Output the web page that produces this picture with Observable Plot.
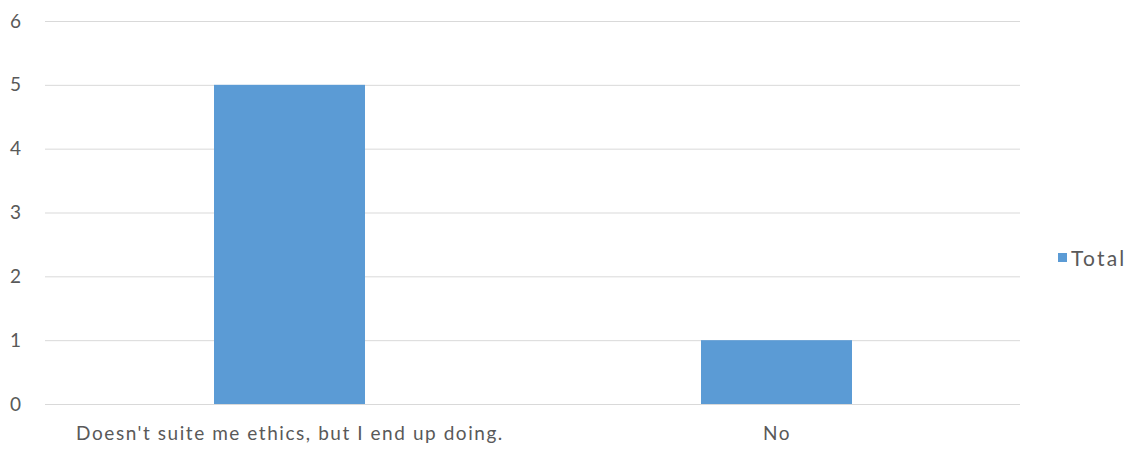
<!DOCTYPE html>
<html>
<head>
<meta charset="utf-8">
<script src="https://cdn.jsdelivr.net/npm/d3@7"></script>
<script src="https://cdn.jsdelivr.net/npm/@observablehq/plot@0.6"></script>
<style>
  html, body { margin: 0; padding: 0; background: #fff; }
  #wrap { position: relative; width: 1136px; height: 451px; font-family: Lato, "Open Sans", sans-serif; }
  #legend { position: absolute; left: 1058px; top: 244px; height: 26px; display: flex; align-items: center; font-size: 21px; letter-spacing: 2.2px; color: #595959; }
  #legend .sw { width: 9px; height: 9px; background: #5b9bd5; margin-right: 4px; }
  #chart svg text { letter-spacing: 1.55px; }
</style>
</head>
<body>
<div id="wrap">
  <div id="chart"></div>
  <div id="legend"><div class="sw"></div><span id="legname"></span></div>
</div>
<script>
const categories = ["Doesn't suite me ethics, but I end up doing.", "No"];
const totals = [5, 1];
const yTicks = [0, 1, 2, 3, 4, 5, 6];
const seriesName = "Total";

const data = categories.map((c, i) => ({category: c, value: totals[i]}));
document.getElementById("legname").textContent = seriesName;

const chart = Plot.plot({
  width: 1136,
  height: 451,
  marginLeft: 45,
  marginRight: 116,
  marginTop: 21,
  marginBottom: 47,
  style: {fontFamily: "Lato, 'Open Sans', sans-serif", fontSize: "19px", color: "#595959", background: "#fff"},
  x: {domain: categories, paddingInner: 0.69, paddingOuter: 0.345, label: null, tickSize: 0, tickPadding: 22},
  y: {domain: [0, 6], ticks: yTicks, tickFormat: "d", label: null, tickSize: 0, tickPadding: 23, grid: false},
  marks: [
    Plot.ruleY(yTicks, {stroke: "#d9d9d9", strokeWidth: 1}),
    Plot.barY(data, {x: "category", y: "value", fill: "#5b9bd5"})
  ]
});
document.getElementById("chart").appendChild(chart);
</script>
</body>
</html>
